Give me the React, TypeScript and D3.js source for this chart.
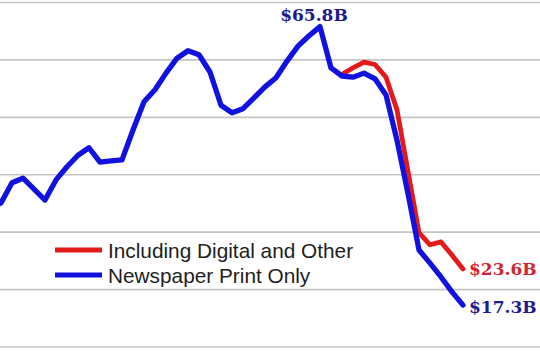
import React from "react";
import * as d3 from "d3";

const years: number[] = [
  1970, 1971, 1972, 1973, 1974, 1975, 1976, 1977, 1978, 1979, 1980, 1981, 1982, 1983,
  1984, 1985, 1986, 1987, 1988, 1989, 1990, 1991, 1992, 1993, 1994, 1995, 1996,
  1997, 1998, 1999, 2000, 2001, 2002, 2003, 2004, 2005, 2006, 2007, 2008, 2009,
  2010, 2011, 2012, 2013,
];
const printOnly: number[] = [
  34.0, 35.1, 38.6, 39.4, 37.5, 35.6, 39.1, 41.4, 43.4, 44.7, 42.2, 42.4, 42.6, 47.8,
  52.7, 54.8, 57.7, 60.3, 61.6, 60.9, 57.9, 52.1, 50.8, 51.5, 53.4, 55.3, 56.9,
  59.8, 62.4, 64.2, 65.8, 58.6, 57.2, 57.0, 57.7, 56.7, 53.9, 46.0, 36.7, 26.9,
  24.6, 22.2, 19.6, 17.3,
];
const digitalYears: number[] = [2002, 2003, 2004, 2005, 2006, 2007, 2008, 2009, 2010, 2011, 2012, 2013];
const withDigital: number[] = [57.5, 58.6, 59.6, 59.2, 57.0, 51.3, 40.6, 29.9, 27.8, 28.3, 26.0, 23.6];
const gridValues: number[] = [70, 60, 50, 40, 30, 20, 10];
const legendLabels: string[] = ["Including Digital and Other", "Newspaper Print Only"];

const W = 540;
const H = 359;
const BLUE = "#1212e0";
const RED = "#e41a1a";

export default function App() {
  const x = d3.scaleLinear().domain([1971, 2013]).range([1, 463]);
  const y = d3.scaleLinear().domain([70, 10]).range([2.5, 347]);

  const blueData = years.map((yr, i) => [yr, printOnly[i]] as [number, number]);
  const redData = digitalYears.map((yr, i) => [yr, withDigital[i]] as [number, number]);
  const line = d3
    .line<[number, number]>()
    .x((d) => x(d[0]))
    .y((d) => y(d[1]));

  const fmt = (v: number) => `$${v.toFixed(1)}B`;
  const peakIdx = printOnly.indexOf(d3.max(printOnly) as number);
  const peakYear = years[peakIdx];
  const peakVal = printOnly[peakIdx];
  const lastBlue = printOnly[printOnly.length - 1];
  const lastRed = withDigital[withDigital.length - 1];
  const lastYear = years[years.length - 1];

  return (
    <svg
      width={W}
      height={H}
      style={{ position: "absolute", left: 0, top: 0, background: "#fff" }}
    >
      <rect x={0} y={0} width={W} height={H} fill="#fff" />
      {gridValues.map((g) => (
        <line
          key={g}
          x1={0}
          x2={W}
          y1={y(g)}
          y2={y(g)}
          stroke="#c4c4c4"
          strokeWidth={1.6}
        />
      ))}
      <path
        d={line(redData) || ""}
        fill="none"
        stroke={RED}
        strokeWidth={4.8}
        strokeLinejoin="round"
        strokeLinecap="round"
      />
      <path
        d={line(blueData) || ""}
        fill="none"
        stroke={BLUE}
        strokeWidth={5.3}
        strokeLinejoin="round"
        strokeLinecap="round"
      />
      <text
        x={x(peakYear) - 6}
        y={y(peakVal) - 6}
        textAnchor="middle"
        fontFamily="'DejaVu Serif', serif"
        fontWeight="bold"
        fontSize={17}
        fill="#1c1c8e"
      >
        {fmt(peakVal)}
      </text>
      <text
        x={x(lastYear) + 6}
        y={y(lastRed) + 6}
        fontFamily="'DejaVu Serif', serif"
        fontWeight="bold"
        fontSize={17}
        fill="#d42430"
      >
        {fmt(lastRed)}
      </text>
      <text
        x={x(lastYear) + 6}
        y={y(lastBlue) + 8}
        fontFamily="'DejaVu Serif', serif"
        fontWeight="bold"
        fontSize={17}
        fill="#1c1c8e"
      >
        {fmt(lastBlue)}
      </text>
      {legendLabels.map((lab, i) => (
        <g key={lab} transform={`translate(0, ${250 + i * 25})`}>
          <line x1={55} x2={102} y1={0} y2={0} stroke={i === 0 ? RED : BLUE} strokeWidth={5} />
          <text
            x={108}
            y={8}
            fontFamily="'Liberation Sans', Arial, sans-serif"
            fontSize={20.8}
            fill="#1e1e1e"
          >
            {lab}
          </text>
        </g>
      ))}
    </svg>
  );
}
